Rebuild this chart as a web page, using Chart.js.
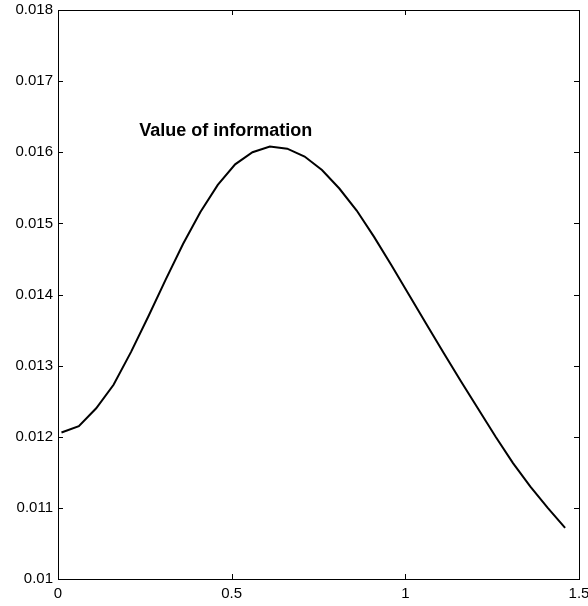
<!DOCTYPE html>
<html>
<head>
<meta charset="utf-8">
<script src="https://cdn.jsdelivr.net/npm/chart.js@4/dist/chart.umd.min.js"></script>
<style>
  html, body { margin: 0; padding: 0; background: #fff; }
  #wrap { width: 588px; height: 606px; }
</style>
</head>
<body>
<div id="wrap"><canvas id="voi"></canvas></div>
<script>
// values
const xValues = [0.01, 0.06, 0.11, 0.16, 0.21, 0.26, 0.31, 0.36, 0.41, 0.46,
                 0.51, 0.56, 0.61, 0.66, 0.71, 0.76, 0.81, 0.86, 0.91, 0.96,
                 1.01, 1.06, 1.11, 1.16, 1.21, 1.26, 1.31, 1.36, 1.41, 1.46];
const voiValues = [0.01206, 0.01215, 0.01240, 0.01273, 0.01319, 0.01369, 0.01421, 0.01471, 0.01516, 0.01554,
                   0.01583, 0.01600, 0.01608, 0.01605, 0.01594, 0.01575, 0.01549, 0.01518, 0.01481, 0.01441,
                   0.01400, 0.01359, 0.01318, 0.01278, 0.01239, 0.01200, 0.01163, 0.01130, 0.01100, 0.01072];
const xTickLabels = ['0', '0.5', '1', '1.5'];
const yTickLabels = ['0.01', '0.011', '0.012', '0.013', '0.014', '0.015', '0.016', '0.017', '0.018'];
const curveLabel = 'Value of information';
const labelAt = [0.234, 0.01623];

const font = 'Liberation Sans, Arial, Helvetica, sans-serif';

// matlab style box with ticks pointing inward + the text label
const boxPlugin = {
    id: 'box',
    afterDraw(chart) {
        const c = chart.ctx, a = chart.chartArea;
        const xs = chart.scales.x, ys = chart.scales.y;
        c.save();
        c.strokeStyle = '#000';
        c.lineWidth = 1;
        c.strokeRect(a.left + 0.5, a.top + 0.5, a.right - a.left, a.bottom - a.top);
        const len = 5;
        c.beginPath();
        xs.ticks.forEach(t => {
            const px = Math.round(xs.getPixelForValue(t.value)) + 0.5;
            c.moveTo(px, a.bottom); c.lineTo(px, a.bottom - len);
            c.moveTo(px, a.top); c.lineTo(px, a.top + len);
        });
        ys.ticks.forEach(t => {
            const py = Math.round(ys.getPixelForValue(t.value)) + 0.5;
            c.moveTo(a.left, py); c.lineTo(a.left + len, py);
            c.moveTo(a.right, py); c.lineTo(a.right - len, py);
        });
        c.stroke();
        c.fillStyle = '#000';
        c.font = 'bold 18px ' + font;
        c.textAlign = 'left';
        c.textBaseline = 'alphabetic';
        c.fillText(curveLabel, xs.getPixelForValue(labelAt[0]), ys.getPixelForValue(labelAt[1]));
        c.restore();
    }
};

// keep tick label overflow from moving the box
const noOverflow = s => {
    s.paddingTop = 0; s.paddingBottom = 0;
    s.paddingLeft = 0; s.paddingRight = 0;
};

const ctx = document.getElementById('voi').getContext('2d');

new Chart(ctx, {
    type: 'scatter',
    data: {
        datasets: [{
            label: curveLabel,
            data: xValues.map((x, i) => ({ x: x, y: voiValues[i] })),
            showLine: true,
            borderColor: '#000',
            borderWidth: 2,
            pointRadius: 0,
            tension: 0,
            fill: false
        }]
    },
    options: {
        responsive: true,
        maintainAspectRatio: false,
        animation: false,
        layout: { padding: { left: 0, top: 10, right: 9, bottom: 0 } },
        plugins: {
            legend: { display: false },
            tooltip: { enabled: false }
        },
        scales: {
            x: {
                type: 'linear',
                min: 0,
                max: 1.5,
                border: { display: false },
                grid: { display: false, drawTicks: false, tickLength: 0 },
                afterFit: s => { s.height = 27; noOverflow(s); },
                ticks: {
                    stepSize: 0.5,
                    maxRotation: 0,
                    padding: 6,
                    color: '#000',
                    font: { family: font, size: 15 },
                    callback: (v, i) => xTickLabels[i]
                }
            },
            y: {
                min: 0.01,
                max: 0.018,
                border: { display: false },
                grid: { display: false, drawTicks: false, tickLength: 0 },
                afterFit: s => { s.width = 58; noOverflow(s); },
                ticks: {
                    stepSize: 0.001,
                    padding: 5,
                    color: '#000',
                    font: { family: font, size: 15 },
                    callback: (v, i) => yTickLabels[i]
                }
            }
        }
    },
    plugins: [boxPlugin]
});
</script>
</body>
</html>
